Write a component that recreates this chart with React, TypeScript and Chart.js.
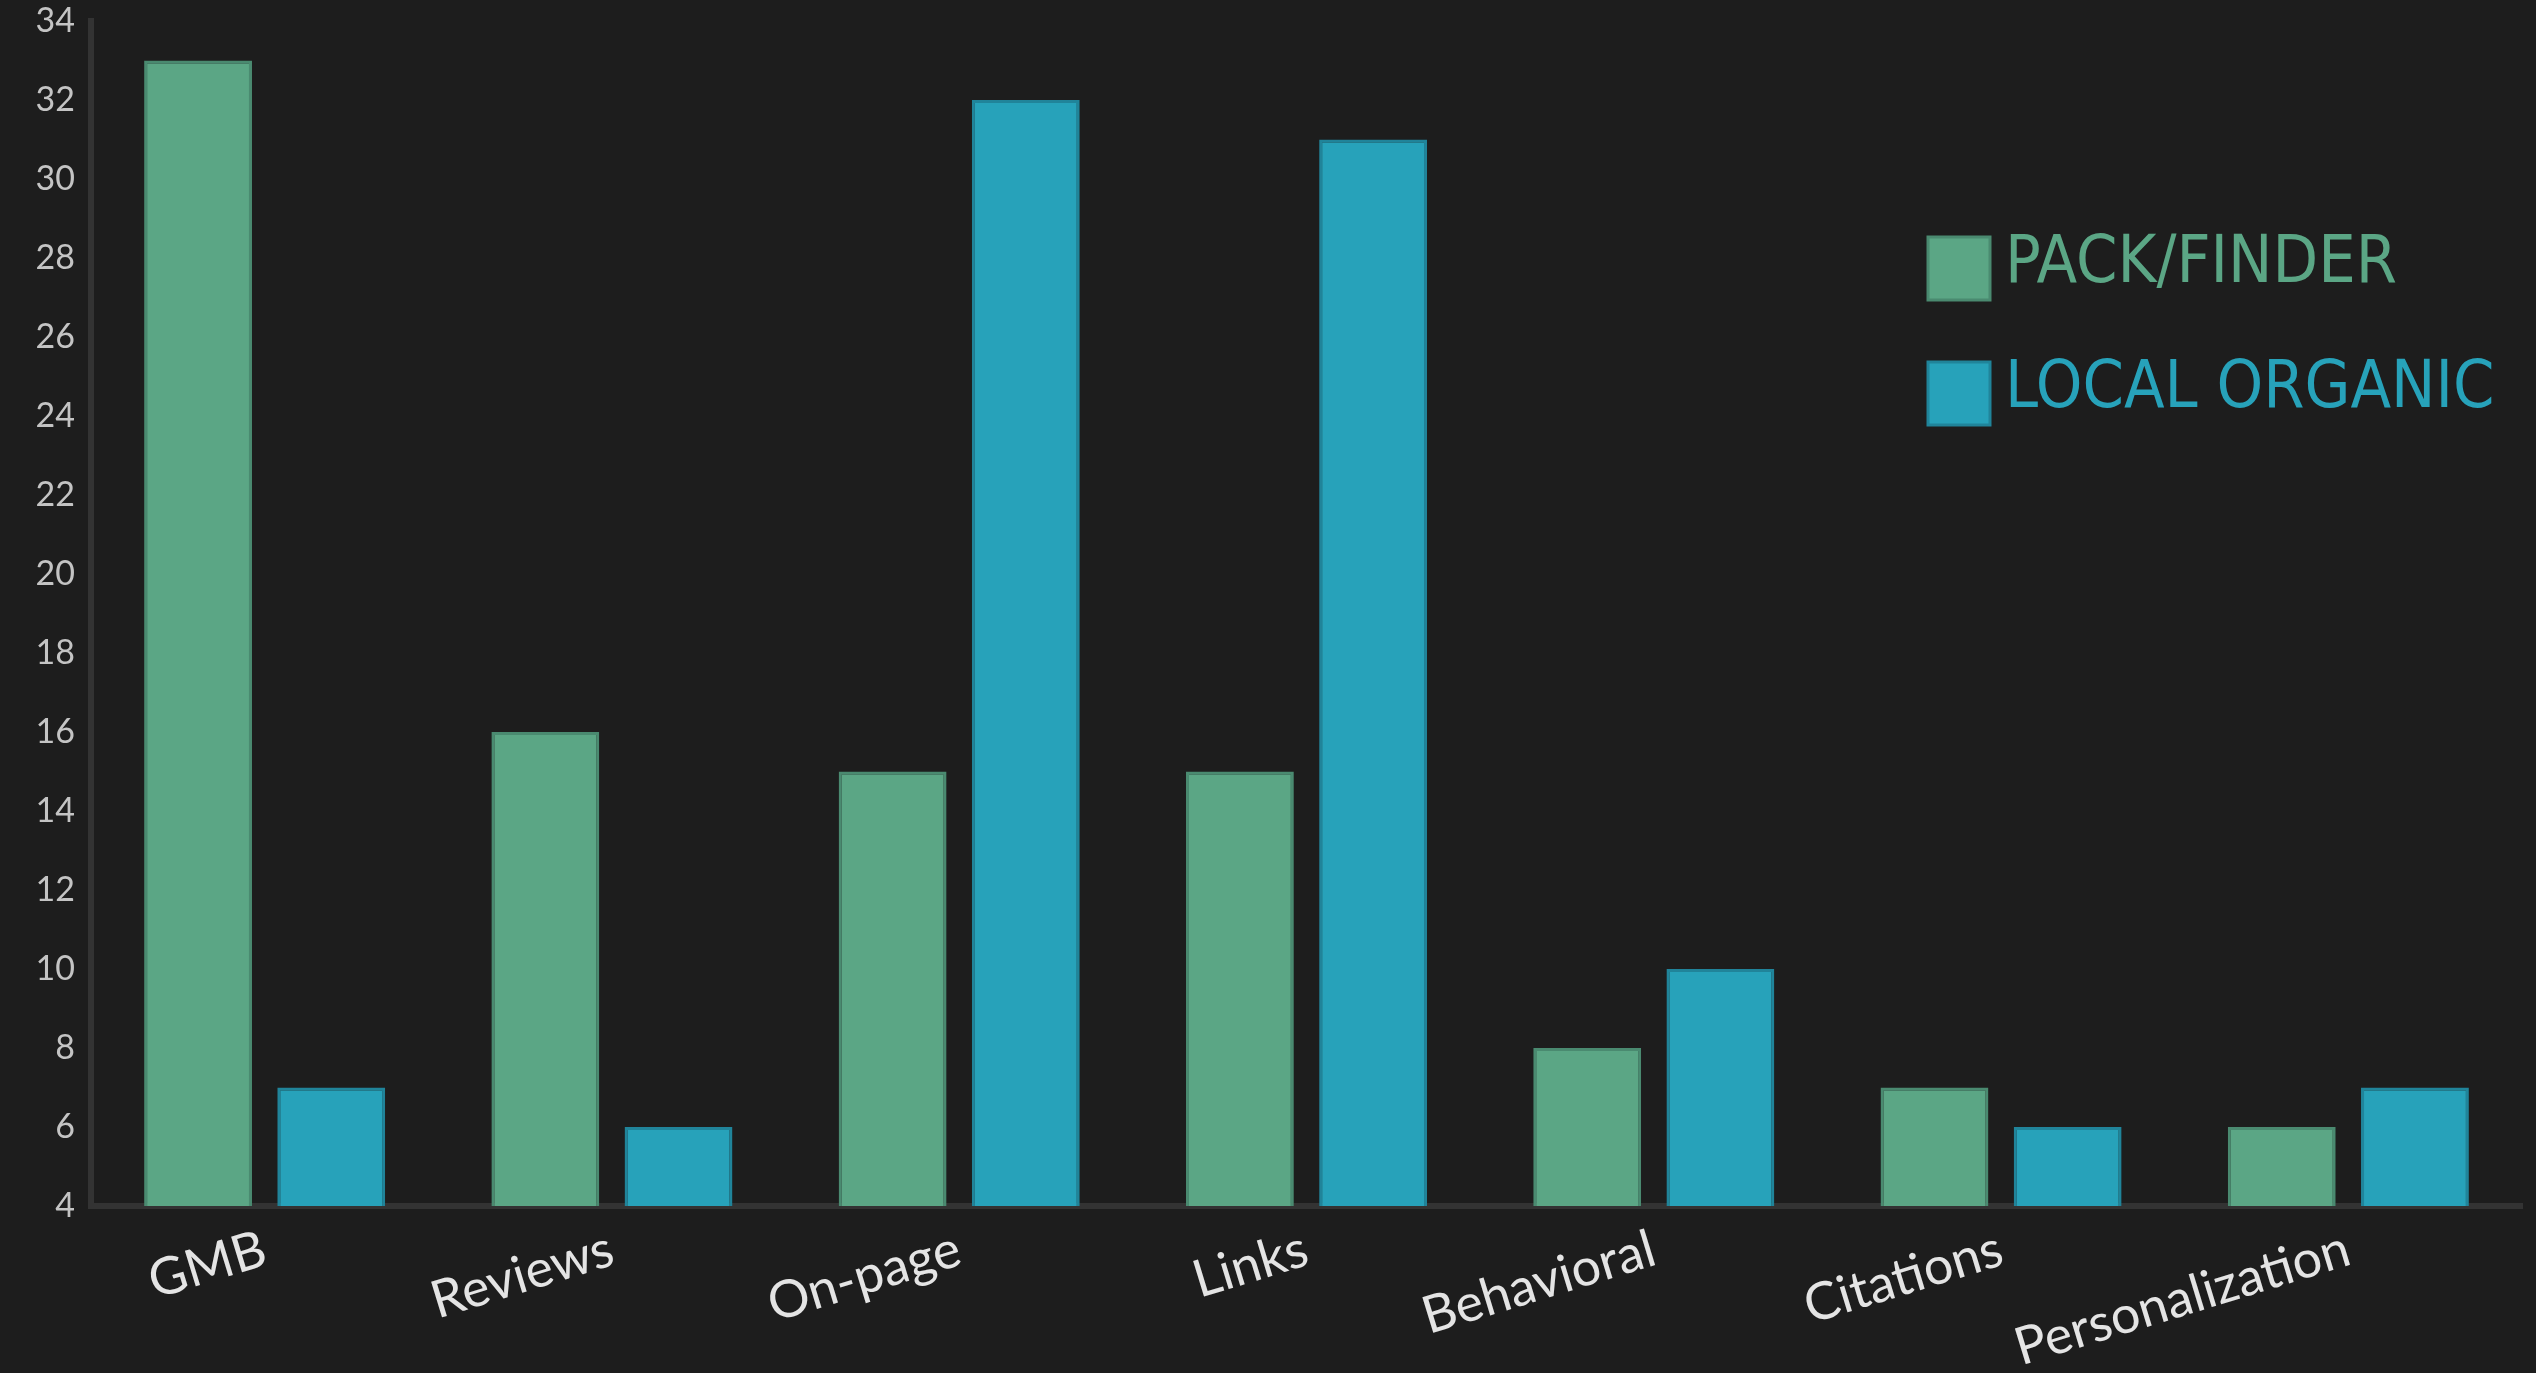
import React, { useEffect, useRef } from "react";
import { Chart, registerables } from "chart.js";

Chart.register(...registerables);

const categories = ["GMB", "Reviews", "On-page", "Links", "Behavioral", "Citations", "Personalization"];
const packFinder = [33, 16, 15, 15, 8, 7, 6];
const localOrganic = [7, 6, 32, 31, 10, 6, 7];
const seriesNames = ["PACK/FINDER", "LOCAL ORGANIC"];
const yMin = 4;
const yMax = 34;
const yStep = 2;

const BG = "#1d1d1d";
const GREEN = "#5ba685";
const GREEN_EDGE = "#4a8a70";
const BLUE = "#27a2ba";
const BLUE_EDGE = "#20849a";

const legendPlugin = {
  id: "insideLegend",
  afterDraw(chart: any) {
    const { ctx, chartArea } = chart;
    const x0 = chartArea.right - 594;
    const y0 = chartArea.top + 216;
    const rowGap = 125;
    chart.data.datasets.forEach((ds: any, i: number) => {
      const y = y0 + i * rowGap;
      ctx.save();
      ctx.fillStyle = ds.backgroundColor;
      ctx.strokeStyle = ds.borderColor;
      ctx.lineWidth = 3;
      ctx.beginPath();
      ctx.rect(x0, y, 62, 63);
      ctx.fill();
      ctx.stroke();
      ctx.fillStyle = ds.backgroundColor;
      ctx.font = '66px "Liberation Sans Narrow", "DejaVu Sans Condensed", Roboto, sans-serif';
      ctx.textBaseline = "middle";
      ctx.textAlign = "left";
      ctx.fillText(ds.label, x0 + 77, y + 28);
      ctx.restore();
    });
  },
};

export default function App() {
  const ref = useRef<HTMLCanvasElement | null>(null);

  useEffect(() => {
    document.body.style.margin = "0";
    document.body.style.background = BG;
    const canvas = ref.current;
    if (!canvas) return;
    const chart = new Chart(canvas, {
      type: "bar",
      data: {
        labels: categories,
        datasets: [
          {
            label: seriesNames[0],
            data: packFinder,
            backgroundColor: GREEN,
            borderColor: GREEN_EDGE,
            borderWidth: 3,
          },
          {
            label: seriesNames[1],
            data: localOrganic,
            backgroundColor: BLUE,
            borderColor: BLUE_EDGE,
            borderWidth: 3,
          },
        ],
      },
      options: {
        animation: false,
        responsive: true,
        maintainAspectRatio: false,
        layout: { padding: { left: 37, right: 14, top: 21, bottom: 0 } },
        datasets: {
          bar: { categoryPercentage: 0.767, barPercentage: 0.81 },
        },
        plugins: {
          legend: { display: false },
          tooltip: { enabled: false },
          title: { display: false },
        },
        scales: {
          x: {
            grid: { display: false, drawTicks: false },
            border: { display: true, color: "#333333", width: 6 },
            ticks: {
              color: "#e4e4e4",
              font: { family: "Lato", size: 52 },
              minRotation: 17,
              maxRotation: 17,
              padding: 12,
              autoSkip: false,
            },
            afterFit: (axis: any) => {
              axis.height = 167;
            },
          },
          y: {
            min: yMin,
            max: yMax,
            grid: { display: false, drawTicks: false },
            border: { display: true, color: "#333333", width: 6 },
            ticks: {
              stepSize: yStep,
              color: "#c4c4c4",
              font: { family: "Lato", size: 34 },
              padding: 16,
            },
            afterFit: (axis: any) => {
              axis.width = 54;
              axis.paddingTop = 0;
              axis.paddingBottom = 0;
            },
          },
        },
      },
      plugins: [legendPlugin],
    });
    return () => chart.destroy();
  }, []);

  return (
    <div style={{ position: "absolute", left: 0, top: 0, width: 2536, height: 1373, background: BG }}>
      <canvas ref={ref} />
    </div>
  );
}
